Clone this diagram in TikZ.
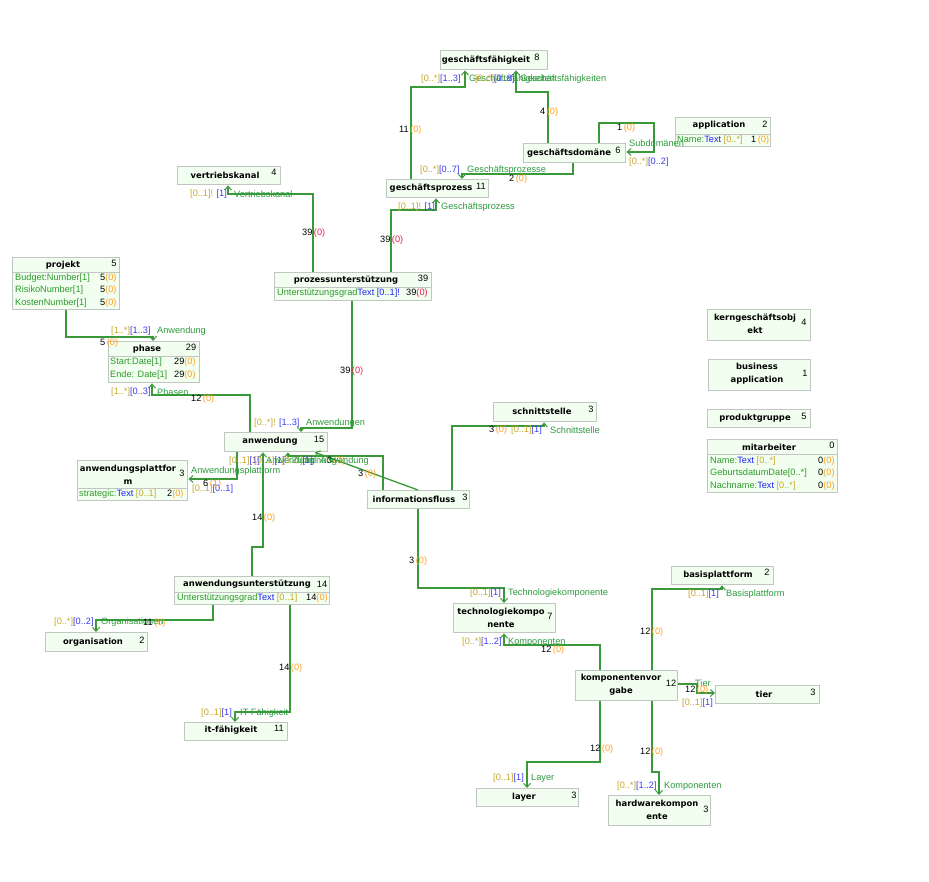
\documentclass[tikz,border=0pt]{standalone}
\usepackage{fontspec}
\setmainfont{Liberation Sans}
\newfontfamily\nmfont{DejaVu Sans}
\usetikzlibrary{arrows.meta}
\definecolor{bxfill}{HTML}{F2FFF0}
\definecolor{bxline}{HTML}{C2C6C2}
\definecolor{cn}{HTML}{3A9A3A}
\definecolor{mulA}{HTML}{C8A828}
\definecolor{mulB}{HTML}{3C3CF0}
\definecolor{rl}{HTML}{2E9A3E}
\definecolor{zc}{HTML}{FFA020}
\definecolor{zr}{HTML}{E82050}
\definecolor{atg}{HTML}{2E9A2E}
\definecolor{atb}{HTML}{2020F0}
\newcommand{\xmA}[1]{\textcolor{mulA}{#1}}
\newcommand{\xmB}[1]{\textcolor{mulB}{#1}}
\newcommand{\xrole}[1]{\textcolor{rl}{#1}}
\newcommand{\xcnt}[2]{#1\,\textcolor{zc}{(#2)}}
\newcommand{\xcntr}[2]{#1\,\textcolor{zr}{(#2)}}
\newcommand{\xrow}[2]{#1\textcolor{zc}{(#2)}}
\newcommand{\xg}[1]{\textcolor{atg}{#1}}
\newcommand{\xb}[1]{\textcolor{atb}{#1}}
\newcounter{lbn}
\newcommand{\lb}[3]{\stepcounter{lbn}\node[lb] (lb\arabic{lbn}) at (#1,#2) {#3};}
\tikzset{
  box/.style={draw=bxline, fill=bxfill, line width=1.4pt, inner sep=0pt, anchor=north west},
  nm/.style={inner sep=0pt, font=\nmfont\bfseries\fontsize{8.4}{13}\selectfont, align=center},
  ct/.style={inner sep=0pt, font=\fontsize{9.2}{10}\selectfont},
  lb/.style={inner sep=0pt, anchor=west, font=\fontsize{9.2}{10}\selectfont},
  conn/.style={draw=cn, line width=1.3pt, -{Straight Barb[length=4pt,width=7pt,line width=1pt]}},
}
\begin{document}
\begin{tikzpicture}[x=1pt,y=-1pt]
\useasboundingbox[fill=white] (0,0) rectangle (929,882);

% ---------- boxes ----------
\node[box, minimum width=107pt, minimum height=19pt] (gf) at (440,50) {};
\node[box, minimum width=95pt, minimum height=17pt] (app) at (675,117) {};
\node[box, minimum width=95pt, minimum height=12pt] (appa) at (675,134) {};
\node[box, minimum width=102pt, minimum height=19pt] (gd) at (523,143) {};
\node[box, minimum width=103pt, minimum height=18pt] (vk) at (177,166) {};
\node[box, minimum width=102pt, minimum height=18pt] (gp) at (386,179) {};
\node[box, minimum width=157pt, minimum height=15pt] (pu) at (274,272) {};
\node[box, minimum width=157pt, minimum height=13pt] (pua) at (274,287) {};
\node[box, minimum width=107pt, minimum height=15pt] (pj) at (12,257) {};
\node[box, minimum width=107pt, minimum height=37pt] (pja) at (12,272) {};
\node[box, minimum width=91pt, minimum height=15pt] (ph) at (108,341) {};
\node[box, minimum width=91pt, minimum height=26pt] (pha) at (108,356) {};
\node[box, minimum width=103pt, minimum height=31pt] (kgo) at (707,309) {};
\node[box, minimum width=102pt, minimum height=31pt] (ba) at (708,359) {};
\node[box, minimum width=103pt, minimum height=18pt] (pg) at (707,409) {};
\node[box, minimum width=130pt, minimum height=15pt] (ma) at (707,439) {};
\node[box, minimum width=130pt, minimum height=38pt] (maa) at (707,454) {};
\node[box, minimum width=103pt, minimum height=19pt] (ss) at (493,402) {};
\node[box, minimum width=103pt, minimum height=19pt] (an) at (224,432) {};
\node[box, minimum width=110pt, minimum height=28pt] (ap) at (77,460) {};
\node[box, minimum width=110pt, minimum height=12pt] (apa) at (77,488) {};
\node[box, minimum width=102pt, minimum height=18pt] (inf) at (367,490) {};
\node[box, minimum width=155pt, minimum height=16pt] (au) at (174,576) {};
\node[box, minimum width=155pt, minimum height=12pt] (aua) at (174,592) {};
\node[box, minimum width=102pt, minimum height=19pt] (org) at (45,632) {};
\node[box, minimum width=103pt, minimum height=18pt] (itf) at (184,722) {};
\node[box, minimum width=102pt, minimum height=18pt] (bp) at (671,566) {};
\node[box, minimum width=102pt, minimum height=29pt] (tk) at (453,603) {};
\node[box, minimum width=102pt, minimum height=30pt] (kv) at (575,670) {};
\node[box, minimum width=104pt, minimum height=18pt] (ti) at (715,685) {};
\node[box, minimum width=102pt, minimum height=18pt] (ly) at (476,788) {};
\node[box, minimum width=102pt, minimum height=30pt] (hw) at (608,795) {};

% ---------- names and counts ----------
\node[nm] (gf-t) at (486,60) {geschäftsfähigkeit};     \node[ct] (gf-c) at (537,57) {8};
\node[nm] (app-t) at (719,125.5) {application};        \node[ct] (app-c) at (765,124) {2};
\node[nm] (gd-t) at (569,153) {geschäftsdomäne};       \node[ct] (gd-c) at (618,150) {6};
\node[nm] (vk-t) at (225,175) {vertriebskanal};        \node[ct] (vk-c) at (274,172) {4};
\node[nm] (gp-t) at (431,188.5) {geschäftsprozess};    \node[ct] (gp-c) at (481,186) {11};
\node[nm] (pu-t) at (346,280) {prozessunterstützung};  \node[ct] (pu-c) at (423,278) {39};
\node[nm] (pj-t) at (63,265.5) {projekt};              \node[ct] (pj-c) at (114,263) {5};
\node[nm] (ph-t) at (147,349.5) {phase};               \node[ct] (ph-c) at (191,347) {29};
\node[nm] (kgo-t) at (755,324) {kerngeschäftsobj\\ekt}; \node[ct] (kgo-c) at (804,322) {4};
\node[nm] (ba-t) at (757,374) {business\\application}; \node[ct] (ba-c) at (805,373) {1};
\node[nm] (pg-t) at (755,418) {produktgruppe};         \node[ct] (pg-c) at (804,416) {5};
\node[nm] (ma-t) at (769,447.5) {mitarbeiter};         \node[ct] (ma-c) at (832,445) {0};
\node[nm] (ss-t) at (542,411) {schnittstelle};         \node[ct] (ss-c) at (591,409) {3};
\node[nm] (an-t) at (270,441) {anwendung};             \node[ct] (an-c) at (319,439) {15};
\node[nm] (ap-t) at (128,475) {anwendungsplattfor\\m}; \node[ct] (ap-c) at (182,473) {3};
\node[nm] (inf-t) at (414,499) {informationsfluss};    \node[ct] (inf-c) at (465,497) {3};
\node[nm] (au-t) at (247,584.5) {anwendungsunterstützung}; \node[ct] (au-c) at (322,584) {14};
\node[nm] (org-t) at (93,642) {organisation};          \node[ct] (org-c) at (142,640) {2};
\node[nm] (itf-t) at (231,730.5) {it-fähigkeit};       \node[ct] (itf-c) at (279,728) {11};
\node[nm] (bp-t) at (718,575) {basisplattform};        \node[ct] (bp-c) at (767,572) {2};
\node[nm] (tk-t) at (501,617.5) {technologiekompo\\nente}; \node[ct] (tk-c) at (550,616) {7};
\node[nm] (kv-t) at (621,685) {komponentenvor\\gabe};  \node[ct] (kv-c) at (671,683) {12};
\node[nm] (ti-t) at (764,694) {tier};                  \node[ct] (ti-c) at (813,692) {3};
\node[nm] (ly-t) at (524,797) {layer};                 \node[ct] (ly-c) at (574,795) {3};
\node[nm] (hw-t) at (657,810) {hardwarekompon\\ente};  \node[ct] (hw-c) at (706,809) {3};

% ---------- attribute rows ----------
\lb{677}{140}{\xg{Name:}\xb{Text} \xmA{[0..*]}}
\lb{751}{140}{\xrow{1\,}{0}}
\lb{277}{293.5}{\xg{Unterstützungsgrad}\xb{Text [0..1]!}}
\lb{406}{293.5}{\textcolor{black}{39}\textcolor{zr}{(0)}}
\lb{15}{278}{\xg{Budget:Number[1]}}  \lb{100}{278}{\xrow{5}{0}}
\lb{15}{290}{\xg{RisikoNumber[1]}}   \lb{100}{290}{\xrow{5}{0}}
\lb{15}{303}{\xg{KostenNumber[1]}}   \lb{100}{303}{\xrow{5}{0}}
\lb{110}{362}{\xg{Start:Date[1]}}    \lb{174}{362}{\xrow{29}{0}}
\lb{110}{375}{\xg{Ende: Date[1]}}    \lb{174}{375}{\xrow{29}{0}}
\lb{710}{461}{\xg{Name:}\xb{Text} \xmA{[0..*]}}        \lb{818}{461}{\xrow{0}{0}}
\lb{710}{473}{\xg{GeburtsdatumDate[0..*]}}            \lb{818}{473}{\xrow{0}{0}}
\lb{710}{486}{\xg{Nachname:}\xb{Text} \xmA{[0..*]}}    \lb{818}{486}{\xrow{0}{0}}
\lb{79}{494}{\xg{strategic:}\xb{Text} \xmA{[0..1]}}    \lb{167}{494}{\xrow{2}{0}}
\lb{177}{598}{\xg{Unterstützungsgrad}\xb{Text} \xmA{[0..1]}} \lb{306}{598}{\xrow{14}{0}}

% ---------- connectors ----------
\draw[conn] (411,0 |- gp.north) -- (411,87) -- (465,87) -- (465,0 |- gf.south);
\draw[conn] (548,0 |- gd.north) -- (548,92) -- (516,92) -- (516,0 |- gf.south);
\draw[conn] (599,0 |- gd.north) -- (599,123) -- (654,123) -- (654,152) -- (gd.east |- 0,152);
\draw[conn] (573,0 |- gd.south) -- (573,174) -- (462,174) -- (462,0 |- gp.north);
\draw[conn] (391,0 |- pu.north) -- (391,210) -- (436,210) -- (436,0 |- gp.south);
\draw[conn] (313,0 |- pu.north) -- (313,194) -- (228,194) -- (228,0 |- vk.south);
\draw[conn] (352,0 |- pua.south) -- (352,428) -- (301,428) -- (301,0 |- an.north);
\draw[conn] (66,0 |- pja.south) -- (66,337) -- (153,337) -- (153,0 |- ph.north);
\draw[conn] (250,0 |- an.north) -- (250,395) -- (152,395) -- (152,0 |- pha.south);
\draw[conn] (237,0 |- an.south) -- (237,479) -- (ap.east |- 0,479);
\draw[conn] (252,0 |- au.north) -- (252,547) -- (263,547) -- (263,0 |- an.south);
\draw[conn] (383,0 |- inf.north) -- (383,456) -- (288,456) -- (288,0 |- an.south);
\draw[conn] (418,0 |- inf.north) -- (315,0 |- an.south);
\draw[conn] (452,0 |- inf.north) -- (452,426) -- (544,426) -- (544,0 |- ss.south);
\draw[conn] (418,0 |- inf.south) -- (418,588) -- (504,588) -- (504,0 |- tk.north);
\draw[conn] (600,0 |- kv.north) -- (600,645) -- (504,645) -- (504,0 |- tk.south);
\draw[conn] (652,0 |- kv.north) -- (652,589) -- (722,589) -- (722,0 |- bp.south);
\draw[conn] (kv.east |- 0,684) -- (697,684) -- (697,693) -- (ti.west |- 0,693);
\draw[conn] (600,0 |- kv.south) -- (600,762) -- (527,762) -- (527,0 |- ly.north);
\draw[conn] (652,0 |- kv.south) -- (652,772) -- (659,772) -- (659,0 |- hw.north);
\draw[conn] (213,0 |- aua.south) -- (213,620) -- (96,620) -- (96,0 |- org.north);
\draw[conn] (290,0 |- aua.south) -- (290,712) -- (235,712) -- (235,0 |- itf.north);

% ---------- connector labels ----------
% gp -> gf
\lb{421}{79}{\xmA{[0..*]}\xmB{[1..3]}}
\lb{469}{79}{\xrole{Geschäftsfähigkeiten}}
\lb{399}{130}{\xcnt{11}{0}}
% gd -> gf
\lb{475}{79}{\xmA{[0..*]}\xmB{[0..8]}}
\lb{520}{79}{\xrole{Geschäftsfähigkeiten}}
\lb{540}{112}{\xcnt{4}{0}}
% gd self
\lb{617}{128}{\xcnt{1}{0}}
\lb{629}{143}{\xrole{Subdomänen}}
\lb{629}{162}{\xmA{[0..*]}\xmB{[0..2]}}
% gd -> gp
\lb{420}{170}{\xmA{[0..*]}\xmB{[0..7]}}
\lb{467}{170}{\xrole{Geschäftsprozesse}}
\lb{509}{179}{\xcnt{2}{0}}
% pu -> gp
\lb{398}{207}{\xmA{[0..1]!} \xmB{[1]}}
\lb{441}{207}{\xrole{Geschäftsprozess}}
\lb{380}{240}{\xcntr{39}{0}}
% pu -> vk
\lb{190}{194}{\xmA{[0..1]!} \xmB{[1]}}
\lb{234}{194}{\xrole{Vertriebskanal}}
\lb{302}{233}{\xcntr{39}{0}}
% pu -> an
\lb{254}{423}{\xmA{[0..*]!} \xmB{[1..3]}}
\lb{306}{423}{\xrole{Anwendungen}}
\lb{340}{371}{\xcntr{39}{0}}
% pj -> ph
\lb{111}{331}{\xmA{[1..*]}\xmB{[1..3]}}
\lb{157}{331}{\xrole{Anwendung}}
\lb{100}{343}{\xcnt{5}{0}}
% an -> ph
\lb{111}{392}{\xmA{[1..*]}\xmB{[0..3]}}
\lb{157}{392}{\xrole{Phasen}}
\lb{191}{399}{\xcnt{12}{0}}
% an -> ap
\lb{191}{471}{\xrole{Anwendungsplattform}}
\lb{192}{489}{\xmA{[0..1]}\xmB{[0..1]}}
\lb{203}{484}{\xcnt{6}{1}}
% au -> an
\lb{229}{461}{\xmA{[0..1]}\xmB{[1]}}
\lb{266}{461}{\xrole{Anwendung}}
\lb{252}{518}{\xcnt{14}{0}}
% inf -> an
\lb{254}{461}{\xmA{[0..1]}\xmB{[1]}}
\lb{292}{461}{\xrole{Zuordnung}}
\lb{327}{461}{\xcnt{3}{0}}
\lb{282}{461}{\xmA{[0..1]}\xmB{[1]}}
\lb{320}{461}{\xrole{Anwendung}}
\lb{358}{474}{\xcnt{3}{0}}
% inf -> ss
\lb{489}{430}{\xcnt{3}{0}}
\lb{511}{430}{\xmA{[0..1]}\xmB{[1]}}
\lb{550}{430}{\xrole{Schnittstelle}}
% inf -> tk
\lb{409}{561}{\xcnt{3}{0}}
\lb{470}{593}{\xmA{[0..1]}\xmB{[1]}}
\lb{508}{593}{\xrole{Technologiekomponente}}
% kv -> tk
\lb{462}{642}{\xmA{[0..*]}\xmB{[1..2]}}
\lb{508}{642}{\xrole{Komponenten}}
\lb{541}{650}{\xcnt{12}{0}}
% kv -> bp
\lb{688}{594}{\xmA{[0..1]}\xmB{[1]}}
\lb{726}{594}{\xrole{Basisplattform}}
\lb{640}{632}{\xcnt{12}{0}}
% kv -> ti
\lb{695}{683}{\xrole{Tier}}
\lb{685}{690}{\xcnt{12}{0}}
\lb{682}{703}{\xmA{[0..1]}\xmB{[1]}}
% kv -> ly
\lb{590}{749}{\xcnt{12}{0}}
\lb{493}{778}{\xmA{[0..1]}\xmB{[1]}}
\lb{531}{778}{\xrole{Layer}}
% kv -> hw
\lb{640}{752}{\xcnt{12}{0}}
\lb{617}{786}{\xmA{[0..*]}\xmB{[1..2]}}
\lb{664}{786}{\xrole{Komponenten}}
% au -> org
\lb{54}{622}{\xmA{[0..*]}\xmB{[0..2]}}
\lb{101}{622}{\xrole{Organisationen}}
\lb{143}{623}{\xcnt{11}{0}}
% au -> itf
\lb{201}{713}{\xmA{[0..1]}\xmB{[1]}}
\lb{240}{713}{\xrole{IT-Fähigkeit}}
\lb{279}{668}{\xcnt{14}{0}}
\end{tikzpicture}
\end{document}
